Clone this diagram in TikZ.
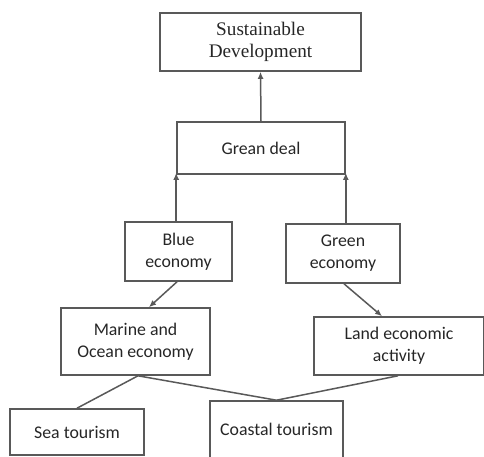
\documentclass[tikz,border=0pt]{standalone}
\usepackage{fontspec}
\setmainfont{Carlito}
\newfontfamily\sdfont{Liberation Serif}
\usetikzlibrary{arrows.meta}
\tikzset{%
	box/.style={
		draw=black!65,
		line width=1.6pt,
		align=center,
		text=black!85,
		inner sep=0pt,
		font=\fontsize{17.8}{22}\selectfont
	},
	arr/.style={
		draw=black!65,
		line width=1.5pt,
		-{Latex[length=7pt,width=6pt]}
	},
	link/.style={
		draw=black!65,
		line width=1.5pt
	},
}
\begin{document}
\begin{tikzpicture}[x=1pt,y=-1pt]
	\useasboundingbox (0,0) rectangle (484,457);
	\clip (0,0) rectangle (484,457);
	
	% Draw the top boxes
	\node[box, minimum width=201pt, minimum height=58pt, font=\sdfont\fontsize{19.2}{22}\selectfont] (sd) at (260.5,42) {Sustainable\\Development};
	\node[box, minimum width=168pt, minimum height=52pt] (gd) at (261,148) {Grean deal};
	
	% Draw the two economies
	\node[box, minimum width=107pt, minimum height=59pt] (blue) at (178.5,251.5) {Blue\\economy};
	\node[box, minimum width=114pt, minimum height=59pt] (green) at (343,253.5) {Green\\economy};
	
	% Draw the activities
	\node[box, minimum width=149pt, minimum height=67pt] (marine) at (135.5,341.5) {Marine and\\Ocean economy};
	\node[box, minimum width=170pt, minimum height=58pt] (land) at (399,346) {Land economic\\activity};
	
	% Draw the tourism boxes
	\node[box, minimum width=134pt, minimum height=46pt] (sea) at (77,432) {Sea tourism};
	\node[box, minimum width=133pt, minimum height=57pt] (coastal) at (276.5,429.5) {Coastal tourism};
	
	% Arrows upwards
	\draw[arr] (gd.north) -- (sd.south);
	\draw[arr] (gd.south west |- blue.north) -- ([yshift=2pt]gd.south west);
	\draw[arr] (gd.south east |- green.north) -- ([yshift=2pt]gd.south east);
	
	% Arrows downwards
	\draw[arr] ([xshift=-1.5pt]blue.south) -- ([xshift=13.5pt]marine.north);
	\draw[arr] ([xshift=1pt]green.south) -- ([xshift=-17pt]land.north);
	
	% Lines to tourism
	\draw[link] ([xshift=2.5pt]marine.south) -- (sea.north);
	\draw[link] ([xshift=2.5pt]marine.south) -- (coastal.north);
	\draw[link] ([xshift=-1pt]land.south) -- (coastal.north);
	
\end{tikzpicture}
\end{document}
